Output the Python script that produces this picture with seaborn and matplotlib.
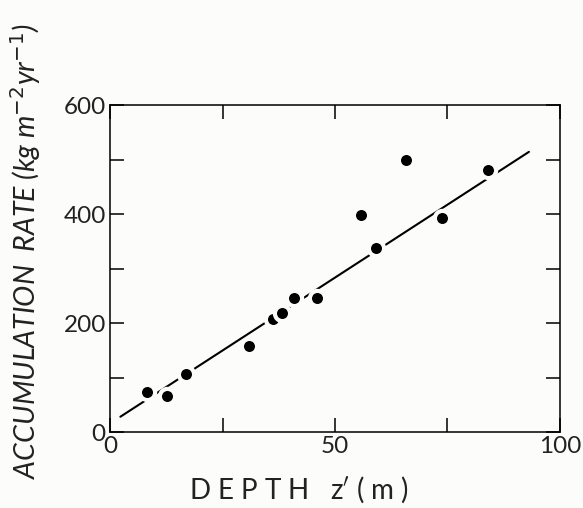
import matplotlib
matplotlib.use("Agg")
import matplotlib.pyplot as plt
import seaborn as sns
import pandas as pd

# Accumulation rate measurements against depth
depth_m = [8.3, 12.6, 16.8, 31.0, 36.3, 38.2, 41.0, 46.1, 55.7, 59.2, 65.8, 73.7, 83.9]
accum_rate = [74, 66, 106, 157, 208, 219, 246, 246, 399, 338, 499, 392, 480]

# Fitted straight line (end points)
fit_depth = [2.3, 93.1]
fit_rate = [28, 514]

x_ticks = [0, 25, 50, 75, 100]
x_tick_labels = ["0", "", "50", "", "100"]
y_ticks = [0, 100, 200, 300, 400, 500, 600]
y_tick_labels = ["0", "", "200", "", "400", "", "600"]

sns.set_theme(style="ticks")
plt.rcParams["font.family"] = ["Lato", "DejaVu Sans"]

points = pd.DataFrame({"depth": depth_m, "rate": accum_rate})
fit = pd.DataFrame({"depth": fit_depth, "rate": fit_rate})

fig = plt.figure(figsize=(5.83, 5.08), dpi=100, facecolor="#fcfcfa")
ax = fig.add_axes([0.1887, 0.1496, 0.7718, 0.6437])
ax.set_facecolor("#fcfcfa")

sns.lineplot(data=fit, x="depth", y="rate", ax=ax, color="black", linewidth=1.5)
sns.scatterplot(data=points, x="depth", y="rate", ax=ax, color="black",
                s=120, edgecolor="#fcfcfa", linewidth=3.0, zorder=3)

ax.set_xlim(0, 100)
ax.set_ylim(0, 600)
ax.set_xticks(x_ticks)
ax.set_xticklabels(x_tick_labels)
ax.set_yticks(y_ticks)
ax.set_yticklabels(y_tick_labels)
ax.tick_params(direction="in", length=10, width=1.1, color="black",
               top=True, right=True, labelsize=17.5, labelcolor="#222222", pad=3)
for side in ax.spines.values():
    side.set_visible(True)
    side.set_linewidth(1.1)
    side.set_color("black")

ax.set_xlabel("D E P T H   z$'$ ( m )", fontsize=20, color="#222222")
ax.xaxis.set_label_coords(0.42, -0.13)
ax.set_ylabel("ACCUMULATION  RATE (kg m$^{-2}$yr$^{-1}$)", fontsize=20.5,
              style="italic", color="#222222")
ax.yaxis.set_label_coords(-0.15, 0.555)

fig.savefig("out.png", dpi=100, facecolor=fig.get_facecolor())
